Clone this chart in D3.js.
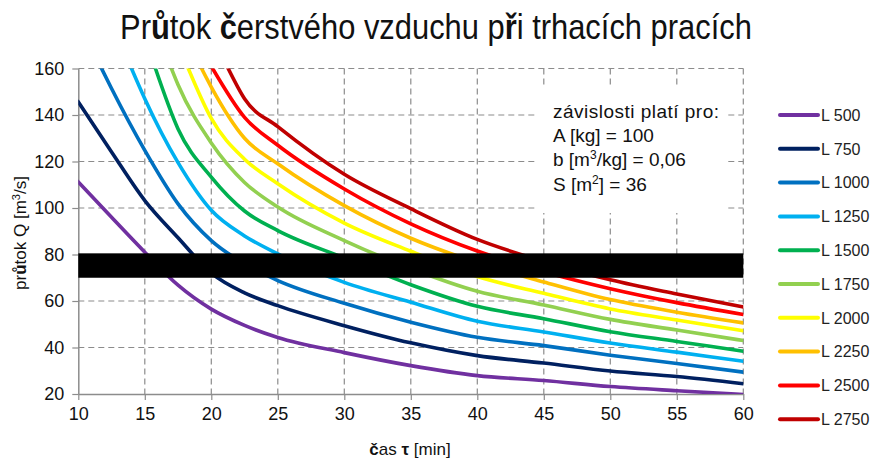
<!DOCTYPE html>
<html>
<head>
<meta charset="utf-8">
<script src="https://cdn.jsdelivr.net/npm/d3@7"></script>
<style>
  body { margin: 0; background: #fff; }
  svg { display: block; }
</style>
</head>
<body>
<svg id="chart" width="874" height="459"></svg>
<script>
// ---- data ----------------------------------------------------------------
const minuteTicks = [10, 15, 20, 25, 30, 35, 40, 45, 50, 55, 60];
const flowTicks = [20, 40, 60, 80, 100, 120, 140, 160];

const seriesNames = ["L 500", "L 750", "L 1000", "L 1250", "L 1500",
                     "L 1750", "L 2000", "L 2250", "L 2500", "L 2750"];
const seriesColors = ["#7030A0", "#002060", "#0070C0", "#00B0F0", "#00B050",
                      "#92D050", "#FFFF00", "#FFC000", "#FF0000", "#C00000"];

// [time τ (min), flow Q (m³/s)]
const L500  = [[10,111.2],[12.5,96],[15,81],[17.5,66.8],[20,56.5],[22.5,49.5],[25,44.3],[30,37.8],[35,32.2],[40,27.9],[45,25.8],[50,23.2],[55,21.4],[60,19.8]];
const L750  = [[10,145.6],[12.5,124.1],[15,103.2],[17.5,87.2],[20,72],[22.5,63.5],[25,58],[30,49.4],[35,42],[40,36.5],[45,33.3],[50,29.9],[55,27.5],[60,24.4]];
const L1000 = [[11.75,160],[12.5,151.4],[15,124.8],[17.5,101.8],[20,86],[22.5,76],[25,68.8],[30,59],[35,50.9],[40,44.4],[45,40.8],[50,36.7],[55,33.1],[60,29.4]];
const L1250 = [[14,160],[15,147],[17.5,119.5],[20,99],[22.5,88],[25,80.3],[30,68],[35,59.5],[40,51.3],[45,46.7],[50,41.9],[55,38],[60,34.1]];
const L1500 = [[15.8,160],[17.5,134],[20,113.3],[22.5,98.7],[25,90.3],[30,78.5],[35,67],[40,57.7],[45,52.4],[50,46.8],[55,42.6],[60,38.4]];
const L1750 = [[17,160],[17.5,153],[20,128],[22.5,111],[25,100.4],[30,86],[35,74],[40,64.2],[45,58.3],[50,52.1],[55,47.5],[60,43]];
const L2000 = [[18.27,160],[20,138.5],[22.5,121],[25,110.4],[30,93.5],[35,81.4],[40,70.5],[45,63.3],[50,56.6],[55,51.8],[60,47.2]];
const L2250 = [[19.27,160],[20,152],[22.5,130],[25,119],[30,101],[35,87],[40,76.5],[45,68.2],[50,60.6],[55,55.2],[60,50.6]];
const L2500 = [[20.1,160],[22.5,139],[25,127],[30,108.2],[35,93.2],[40,81.5],[45,72.6],[50,65.3],[55,59.3],[60,54.2]];
const L2750 = [[21.27,160],[22.5,147],[25,135],[30,114.5],[35,99.7],[40,86.5],[45,77],[50,69.1],[55,63],[60,57.4]];

const seriesValues = [L500, L750, L1000, L1250, L1500, L1750, L2000, L2250, L2500, L2750];

// covered flow range (m³/s)
const bandRange = [70, 80.5];

const noteLines = ["závislosti platí pro:", "A [kg] = 100", "b [m|3|/kg] = 0,06", "S [m|2|] = 36"];

// ---- layout --------------------------------------------------------------
const svg = d3.select("#chart");
const plot = { left: 78.3, right: 743.3, top: 68.5, bottom: 394 };

const x = d3.scaleLinear().domain([10, 60]).range([plot.left, plot.right]);
const y = d3.scaleLinear().domain([20, 160]).range([plot.bottom, plot.top]);

const narrow = "'Liberation Sans Narrow', 'Arial Narrow', 'Liberation Sans', Arial, sans-serif";
const regular = "'Liberation Sans', Arial, sans-serif";
const gridColor = "#8C8C8C";

// text helper: characters listed in `boldChars` are set in bold
function richText(sel, str, boldChars) {
  let buf = "", bold = null;
  const flush = () => {
    if (!buf) return;
    const t = sel.append("tspan").text(buf);
    if (bold) t.attr("font-weight", "bold");
    buf = "";
  };
  for (const ch of str) {
    const b = boldChars.includes(ch);
    if (bold !== null && b !== bold) flush();
    bold = b;
    buf += ch;
  }
  flush();
}

// ---- title (condensed horizontally to its slot width) ---------------------
const titleGroup = svg.append("g");
const title = titleGroup.append("text")
  .attr("x", 0).attr("y", 0)
  .attr("text-anchor", "middle")
  .attr("font-family", narrow)
  .attr("font-size", 35)
  .attr("fill", "#111");
richText(title, "Průtok čerstvého vzduchu při trhacích pracích", "ůčř");
const titleWidth = title.node().getComputedTextLength();
titleGroup.attr("transform", `translate(436,39) scale(${632 / titleWidth},1)`);

// ---- grid ----------------------------------------------------------------
const grid = svg.append("g").attr("stroke", gridColor).attr("stroke-width", 1.2)
  .attr("stroke-dasharray", "6,4").attr("fill", "none");
grid.selectAll("line.h").data(flowTicks.filter(d => d > 20)).join("line")
  .attr("x1", plot.left).attr("x2", plot.right)
  .attr("y1", d => y(d)).attr("y2", d => y(d));
grid.selectAll("line.v").data(minuteTicks.filter(d => d > 10)).join("line")
  .attr("y1", plot.top).attr("y2", plot.bottom)
  .attr("x1", d => x(d)).attr("x2", d => x(d));

// ---- note box (hides the grid behind it) ---------------------------------
svg.append("rect")
  .attr("x", 537).attr("y", 86).attr("width", 191).attr("height", 127)
  .attr("fill", "#fff");
const note = svg.append("text")
  .attr("font-family", narrow).attr("font-size", 19).attr("fill", "#111");
noteLines.forEach((line, i) => {
  const row = note.append("tspan").attr("x", 553).attr("y", 118 + i * 24.2);
  if (i === 0) row.attr("textLength", 166).attr("lengthAdjust", "spacing");
  line.split("|").forEach((part, j) => {
    const t = row.append("tspan").text(part);
    if (j % 2 === 1) t.attr("font-size", 12).attr("dy", -7);
    else if (j > 0) t.attr("dy", 7);
  });
});

// ---- axes ----------------------------------------------------------------
const axisStyle = g => {
  g.select(".domain").attr("stroke", gridColor).attr("stroke-width", 1.5);
  g.selectAll(".tick line").attr("stroke", gridColor).attr("stroke-width", 1.2);
  g.selectAll(".tick text").attr("font-family", narrow).attr("font-size", 18).attr("fill", "#111");
};
svg.append("g")
  .attr("transform", `translate(${plot.left},0)`)
  .call(d3.axisLeft(y).tickValues(flowTicks).tickSize(6).tickSizeOuter(0).tickPadding(8))
  .call(axisStyle);
svg.append("g")
  .attr("transform", `translate(0,${plot.bottom})`)
  .call(d3.axisBottom(x).tickValues(minuteTicks).tickSize(6).tickSizeOuter(0).tickPadding(7))
  .call(axisStyle);

// axis titles
const yTitle = svg.append("text")
  .attr("transform", "translate(26,233) rotate(-90)")
  .attr("text-anchor", "middle")
  .attr("font-family", narrow).attr("font-size", 17).attr("fill", "#111");
richText(yTitle, "průtok Q [m", "ů");
yTitle.append("tspan").text("3").attr("font-size", 11).attr("dy", -6);
yTitle.append("tspan").text("/s]").attr("dy", 6);

const xTitle = svg.append("text")
  .attr("x", 410).attr("y", 455)
  .attr("text-anchor", "middle")
  .attr("font-family", narrow).attr("font-size", 17).attr("fill", "#111");
richText(xTitle, "čas τ [min]", "čτ");

// ---- curves ----------------------------------------------------------------
svg.append("clipPath").attr("id", "plotClip").append("rect")
  .attr("x", plot.left).attr("y", plot.top)
  .attr("width", plot.right - plot.left).attr("height", plot.bottom - plot.top);

const line = d3.line().x(d => x(d[0])).y(d => y(d[1])).curve(d3.curveMonotoneX);
svg.append("g").attr("clip-path", "url(#plotClip)")
  .selectAll("path").data(seriesValues).join("path")
  .attr("d", line)
  .attr("fill", "none")
  .attr("stroke", (d, i) => seriesColors[i])
  .attr("stroke-width", 3.6)
  .attr("stroke-linecap", "square")
  .attr("stroke-linejoin", "round");

// covered band
svg.append("rect")
  .attr("x", plot.left).attr("width", plot.right - plot.left)
  .attr("y", y(bandRange[1])).attr("height", y(bandRange[0]) - y(bandRange[1]))
  .attr("fill", "#000");

// ---- legend ----------------------------------------------------------------
const legend = svg.append("g");
const rows = legend.selectAll("g").data(seriesNames).join("g")
  .attr("transform", (d, i) => `translate(780,${115 + i * 33.8})`);
rows.append("line")
  .attr("x1", 0).attr("x2", 38)
  .attr("stroke", (d, i) => seriesColors[i])
  .attr("stroke-width", 4).attr("stroke-linecap", "round");
rows.append("text")
  .attr("x", 41).attr("dy", "0.36em")
  .attr("font-family", regular).attr("font-size", 16).attr("fill", "#222")
  .text(d => d);
</script>
</body>
</html>
